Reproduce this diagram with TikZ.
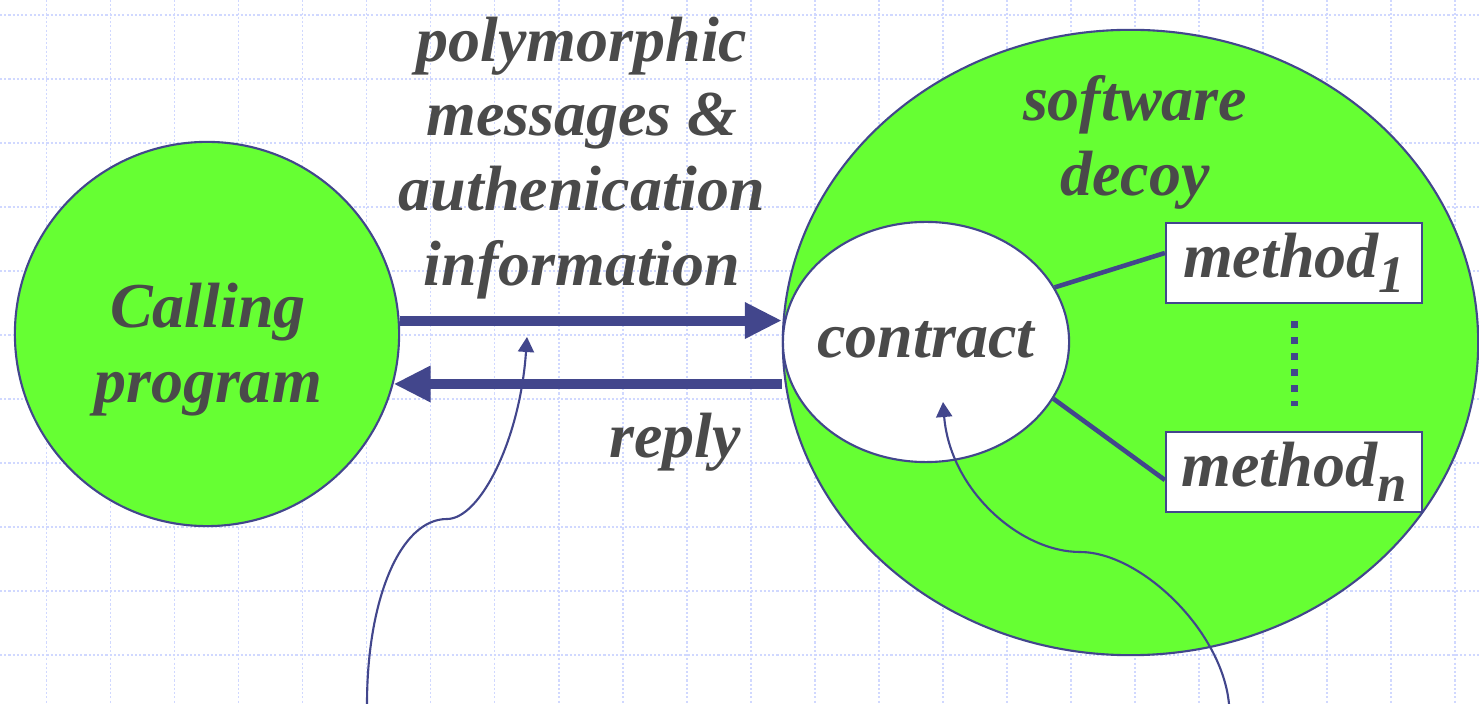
\documentclass[tikz,border=0pt]{standalone}
\usepackage{fontspec}
\setmainfont{Liberation Serif}
\usepackage{tikz}
\usetikzlibrary{shapes.geometric, arrows.meta}
\definecolor{lime}{RGB}{102,255,51}
\definecolor{ink}{RGB}{66,70,140}
\definecolor{lettering}{RGB}{74,74,74}
\definecolor{gridblue}{RGB}{208,216,255}
\newcommand{\idx}[1]{\raisebox{-4.3pt}{\fontsize{15}{15}\selectfont #1}}
\tikzstyle{words} = [font=\fontsize{18.2}{21.3}\selectfont\bfseries\itshape, text=lettering, align=center]
\tikzstyle{gridline} = [gridblue, line width=0.45pt, dash pattern=on 0.6pt off 0.6pt]
\tikzstyle{fat arrow} = [ink, line width=2.85pt, -{Triangle[length=0.37cm,width=0.34cm]}]
\tikzstyle{thin arrow} = [ink, line width=0.6pt, -{Triangle[length=0.15cm,width=0.16cm]}]
\tikzstyle{blob} = [draw=ink, line width=0.6pt, fill=lime, inner sep=0pt]
\tikzstyle{methodbox} = [words, draw=ink, line width=0.6pt, fill=white, minimum width=2.56cm, minimum height=0.8cm, inner sep=0pt]

\begin{document}
\begin{tikzpicture}[x=0.01cm, y=-0.01cm]
	\useasboundingbox (0,0) rectangle (1479,704);
	% dotted grid behind everything
	\foreach \gx in {0,...,22}
		\draw[gridline] (46.7+64*\gx,0) -- (46.7+64*\gx,704);
	\foreach \gy in {0,...,10}
		\draw[gridline] (0,15+64*\gy) -- (1479,15+64*\gy);

	% caller and decoy
	\node[blob, circle, minimum size=3.84cm] (call) at (207,334) {};
	\node[words] (calltext) at (208,350) {Calling\\program};
	\node[blob, ellipse, minimum width=6.95cm, minimum height=6.25cm] (decoy) at (1130.5,342.5) {};
	\node[words] (decoytext) at (1135,142) {software\\decoy};
	\node[blob, ellipse, fill=white, minimum width=2.86cm, minimum height=2.40cm] (contract) at (926,342) {};
	\node[words] (contracttext) at (926,340) {contract};
	\node[methodbox] (m1) at (1294,263) {method\idx{1}};
	\node[methodbox] (mn) at (1294,472) {method\idx{n}};
	\draw[ink, line width=1.3pt] (contract.23) -- ([yshift=0.1cm]m1.west);
	\draw[ink, line width=1.3pt] (contract.-24) -- ([yshift=-0.08cm]mn.west);
	\draw[ink, line width=2pt, dash pattern=on 0.07cm off 0.09cm] ([yshift=-0.17cm]m1.south) -- ([yshift=0.25cm]mn.north);

	% message traffic
	\draw[fat arrow] (call.4.5) -- (contract.west |- call.4.5);
	\draw[fat arrow] (contract.west |- call.-15) -- (call.-15);
	\node[words] (msgtext) at (582,158) {polymorphic\\messages \&\\authenication\\information};
	\node[words] (replytext) at (675,442) {reply};

	% pointers from below
	\coordinate (tail1) at (367,704);
	\coordinate (tip1) at (527,337);
	\coordinate (tail2) at (1229,704);
	\coordinate (tip2) at (943,402);
	\draw[thin arrow] (tail1) .. controls (367,600) and (400,519) .. (447,519) .. controls (480,519) and (520,440) .. (tip1);
	\draw[thin arrow] (tail2) .. controls (1222,630) and (1140,552) .. (1080,552) .. controls (1020,552) and (950,490) .. (tip2);
\end{tikzpicture}
\end{document}
